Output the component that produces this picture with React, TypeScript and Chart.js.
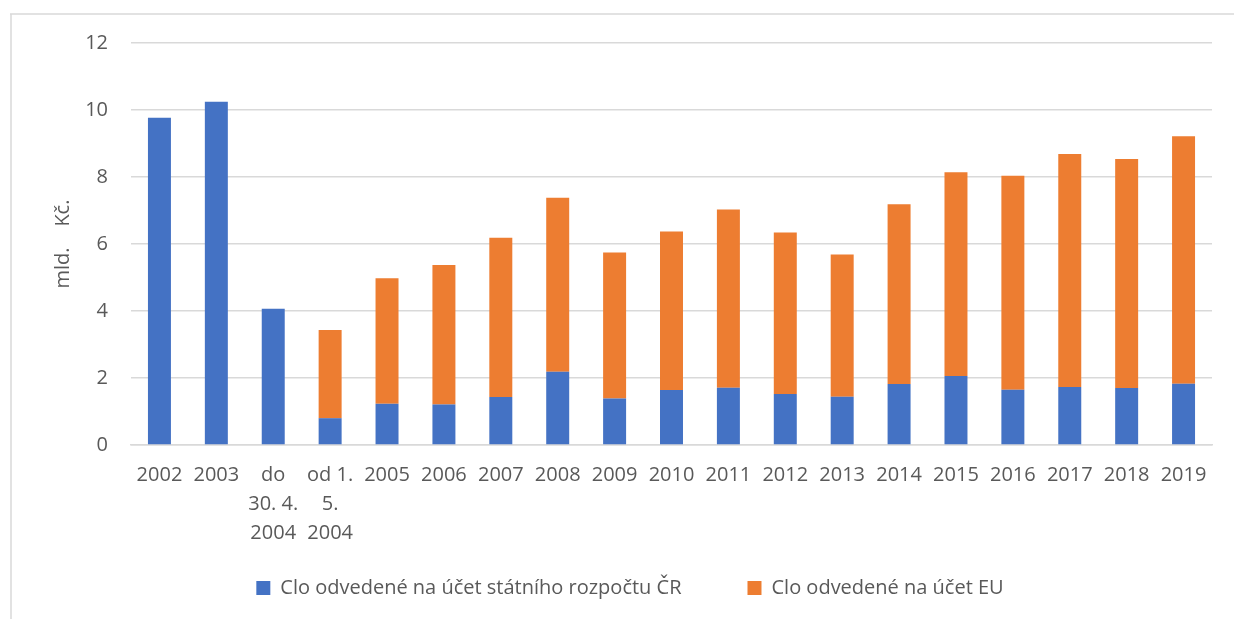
import React, { useEffect, useRef } from "react";
import { Chart, registerables } from "chart.js";

Chart.register(...registerables);

const categories: (string | string[])[] = [
  "2002", "2003", ["do", "30. 4.", "2004"], ["od 1.", "5.", "2004"],
  "2005", "2006", "2007", "2008", "2009", "2010", "2011", "2012",
  "2013", "2014", "2015", "2016", "2017", "2018", "2019",
];

const statniRozpocet: number[] = [
  9.77, 10.25, 4.07, 0.8, 1.23, 1.21, 1.43, 2.19, 1.39, 1.64,
  1.71, 1.52, 1.44, 1.82, 2.06, 1.65, 1.73, 1.7, 1.83,
];

const uctemEU: (number | null)[] = [
  null, null, null, 2.63, 3.75, 4.16, 4.76, 5.19, 4.36, 4.73,
  5.32, 4.82, 4.25, 5.37, 6.08, 6.39, 6.96, 6.84, 7.39,
];

const seriesNames = ["Clo odvedené na účet státního rozpočtu ČR", "Clo odvedené na účet EU"];
const yTitle = "mld.    Kč.";
const yMin = 0;
const yMax = 12;
const yStep = 2;

const FONT = "'Open Sans', sans-serif";
const TEXT = "#595959";
const GRID = "#d9d9d9";

const framePlugin = {
  id: "frame",
  beforeDraw(chart: any) {
    const ctx = chart.ctx;
    ctx.save();
    ctx.strokeStyle = GRID;
    ctx.lineWidth = 1.5;
    ctx.beginPath();
    ctx.moveTo(10, 14);
    ctx.lineTo(chart.width, 14);
    ctx.moveTo(11, 14);
    ctx.lineTo(11, chart.height);
    ctx.stroke();
    ctx.restore();
  },
};

// let the multi-line category labels extend below the x-axis box (no clipping)
const labelRoomPlugin = {
  id: "labelRoom",
  afterLayout(chart: any) {
    const x = chart.scales.x;
    if (x) {
      x.bottom = chart.height;
      x.height = x.bottom - x.top;
    }
  },
};

export default function App() {
  const ref = useRef<HTMLCanvasElement | null>(null);

  useEffect(() => {
    if (!ref.current) return;
    const chart = new Chart(ref.current, {
      type: "bar",
      data: {
        labels: categories,
        datasets: [
          {
            label: seriesNames[0],
            data: statniRozpocet,
            backgroundColor: "#4472C4",
            borderWidth: 0,
            barPercentage: 0.8,
            categoryPercentage: 0.505,
          },
          {
            label: seriesNames[1],
            data: uctemEU,
            backgroundColor: "#ED7D31",
            borderWidth: 0,
            barPercentage: 0.8,
            categoryPercentage: 0.505,
          },
        ],
      },
      options: {
        animation: false,
        responsive: true,
        maintainAspectRatio: false,
        layout: { padding: { left: 48, right: 22, top: 43, bottom: 11 } },
        plugins: {
          legend: {
            position: "bottom",
            labels: {
              boxWidth: 14,
              boxHeight: 14,
              padding: 66,
              color: TEXT,
              font: { family: FONT, size: 20 },
            },
          },
          tooltip: { enabled: false },
        },
        scales: {
          x: {
            stacked: true,
            grid: { display: false, drawTicks: false },
            border: { display: true, color: GRID, width: 1.5 },
            ticks: {
              autoSkip: false,
              maxRotation: 0,
              minRotation: 0,
              padding: 16,
              color: TEXT,
              font: { family: FONT, size: 20, lineHeight: 1.45 },
            },
            afterFit(scale: any) {
              scale.height = 67;
            },
          },
          y: {
            stacked: true,
            min: yMin,
            max: yMax,
            grid: { color: GRID, lineWidth: 1.5, drawTicks: false },
            border: { display: false },
            ticks: {
              stepSize: yStep,
              padding: 23,
              color: TEXT,
              font: { family: FONT, size: 20 },
            },
            title: {
              display: true,
              text: yTitle,
              color: TEXT,
              padding: { top: 3, bottom: 0 },
              font: { family: FONT, size: 20 },
            },
            afterFit(scale: any) {
              scale.width = 83;
            },
          },
        },
      },
      plugins: [framePlugin, labelRoomPlugin],
    });
    return () => chart.destroy();
  }, []);

  return (
    <div style={{ position: "fixed", left: 0, top: 0, width: 1234, height: 619, background: "#fff" }}>
      <canvas ref={ref} />
    </div>
  );
}
